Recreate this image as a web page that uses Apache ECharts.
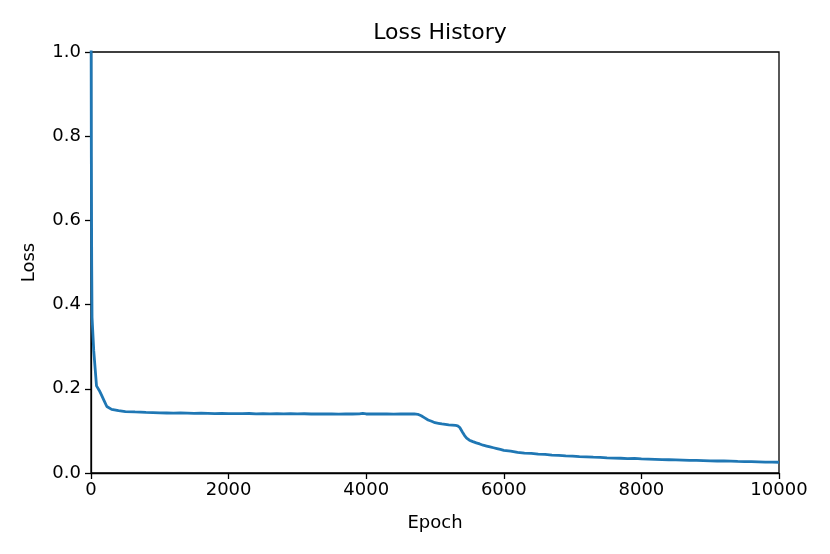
<!DOCTYPE html>
<html>
<head>
<meta charset="utf-8">
<script src="https://cdn.jsdelivr.net/npm/echarts@6/dist/echarts.min.js"></script>
<style>html,body{margin:0;padding:0;background:#fff;}#c{width:830px;height:554px;}</style>
</head>
<body>
<div id="c"></div>
<script>
const epochs = [0, 5, 10, 15, 40, 80, 120, 150, 190, 230, 300, 400, 500, 640, 800, 1000,
  1100, 1200, 1300, 1400, 1500, 1600, 1700, 1800, 1900, 2000, 2100, 2200, 2300, 2400, 2500,
  2600, 2700, 2800, 2900, 3000, 3100, 3200, 3300, 3400, 3500, 3600, 3700, 3800, 3900, 3950, 4000,
  4100, 4200, 4300, 4400, 4500, 4600, 4700, 4750, 4800, 4850, 4900, 4950, 4960, 5000, 5050, 5100,
  5150, 5200, 5250, 5300, 5330, 5360, 5400, 5430, 5460, 5500, 5550, 5600, 5650, 5700, 5750, 5800,
  5850, 5900, 5950, 6000, 6100, 6200, 6300, 6400, 6500, 6600, 6700, 6800, 6900, 7000, 7100, 7200,
  7300, 7400, 7500, 7600, 7700, 7800, 7900, 8000, 8100, 8200, 8300, 8400, 8500, 8600, 8700, 8800,
  8900, 9000, 9100, 9200, 9300, 9400, 9500, 9600, 9700, 9800, 9900, 10000];
const losses = [1.2, 0.75, 0.5, 0.37, 0.29, 0.207, 0.196, 0.186, 0.172, 0.158, 0.151, 0.148, 0.146, 0.145, 0.144, 0.143,
  0.1425, 0.142, 0.1425, 0.142, 0.1415, 0.142, 0.1415, 0.141, 0.1418, 0.141, 0.1412, 0.1408, 0.1413, 0.1405, 0.141,
  0.1405, 0.1409, 0.1403, 0.1408, 0.1403, 0.1407, 0.1402, 0.1406, 0.1401, 0.1405, 0.140, 0.1404, 0.1401, 0.1403, 0.1415, 0.1402,
  0.1404, 0.1401, 0.1403, 0.140, 0.1403, 0.1401, 0.1403, 0.1395, 0.136, 0.131, 0.126, 0.123, 0.127, 0.1195, 0.118, 0.1165,
  0.1155, 0.1145, 0.1138, 0.113, 0.112, 0.108, 0.097, 0.089, 0.083, 0.078, 0.0745, 0.0715, 0.069, 0.066, 0.064, 0.062,
  0.060, 0.058, 0.056, 0.054, 0.052, 0.049, 0.047, 0.0465, 0.045, 0.044, 0.0425, 0.042, 0.0405, 0.040, 0.039, 0.0385,
  0.0375, 0.037, 0.036, 0.0355, 0.035, 0.034, 0.0345, 0.0335, 0.033, 0.0325, 0.032, 0.0315, 0.031, 0.0305, 0.030, 0.030,
  0.0295, 0.029, 0.0285, 0.0285, 0.028, 0.0275, 0.0272, 0.027, 0.0265, 0.026, 0.0258, 0.0255];
const yTicks = [0, 0.2, 0.4, 0.6, 0.8, 1.0];
const xTicks = [0, 2000, 4000, 6000, 8000, 10000];

const data = epochs.map((e, i) => [e, losses[i]]);
const font = 'DejaVu Sans';
const chart = echarts.init(document.getElementById('c'), null, {renderer: 'canvas'});
chart.setOption({
  animation: false,
  backgroundColor: '#fff',
  title: {
    text: 'Loss History', left: 435, top: 17, textAlign: 'center',
    textStyle: {fontFamily: font, fontSize: 22, fontWeight: 'normal', color: '#000'}
  },
  grid: {left: 91, top: 52, width: 688, height: 421, show: true, borderColor: '#000', borderWidth: 1.3, backgroundColor: 'transparent'},
  xAxis: {
    type: 'value', min: 0, max: 10000, interval: 2000,
    name: 'Epoch', nameLocation: 'middle', nameGap: 41,
    nameTextStyle: {fontFamily: font, fontSize: 18, color: '#000'},
    axisLine: {show: true, lineStyle: {color: '#000', width: 1.3}},
    axisTick: {show: true, inside: false, length: 6, lineStyle: {color: '#000', width: 1.3}},
    axisLabel: {fontFamily: font, fontSize: 18, color: '#000', margin: 8, formatter: v => xTicks.includes(v) ? String(v) : ''},
    splitLine: {show: false}
  },
  yAxis: {
    type: 'value', min: 0, max: 1.0, interval: 0.2,
    name: 'Loss', nameLocation: 'middle', nameGap: 53,
    nameTextStyle: {fontFamily: font, fontSize: 18, color: '#000'},
    axisLine: {show: true, lineStyle: {color: '#000', width: 1.3}},
    axisTick: {show: true, inside: false, length: 6, lineStyle: {color: '#000', width: 1.3}},
    axisLabel: {fontFamily: font, fontSize: 18, color: '#000', margin: 10, formatter: v => v.toFixed(1)},
    splitLine: {show: false}
  },
  series: [{
    type: 'line', data: data, showSymbol: false, clip: true,
    lineStyle: {color: '#1f77b4', width: 2.8}, itemStyle: {color: '#1f77b4'}
  }]
});
</script>
</body>
</html>
